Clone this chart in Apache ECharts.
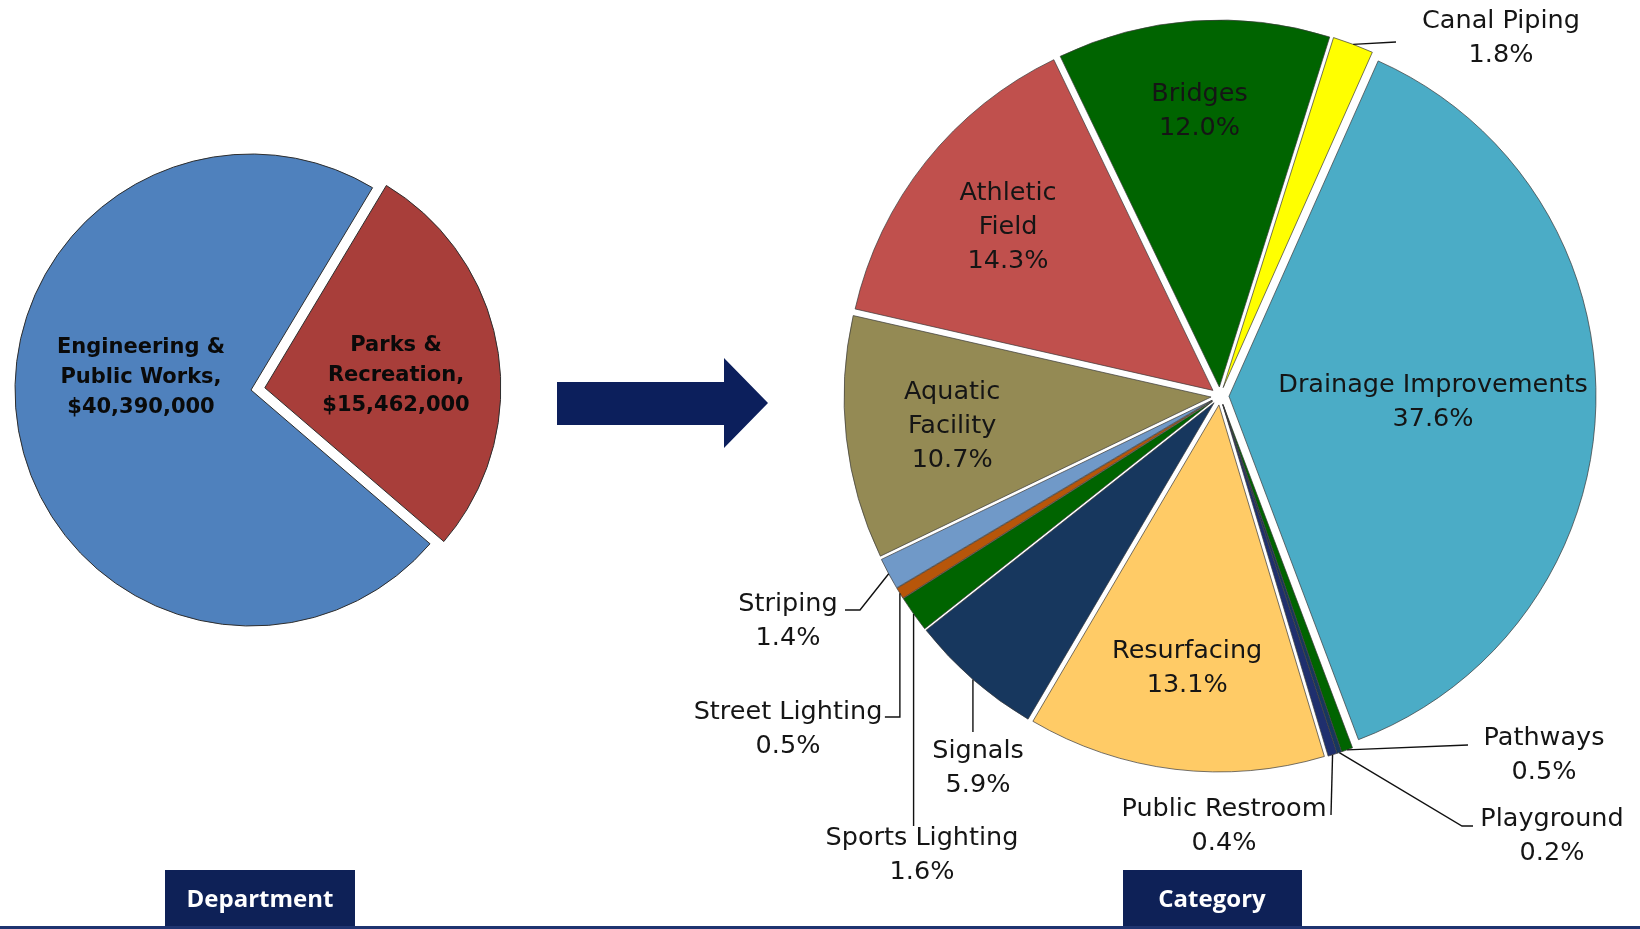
<!DOCTYPE html>
<html><head><meta charset="utf-8">
<script src="https://cdn.jsdelivr.net/npm/echarts@6/dist/echarts.min.js"></script>
<style>html,body{margin:0;padding:0;background:#fff}#chart{width:1640px;height:929px}</style>
</head><body><div id="chart"></div>
<script>
// ---------- data ----------
const deptNames = ['Parks &\nRecreation,', 'Engineering &\nPublic Works,'];
const deptValues = [15462000, 40390000];

const catNames = ['Aquatic Facility', 'Athletic Field', 'Bridges', 'Canal Piping', 'Drainage Improvements',
  'Pathways', 'Playground', 'Public Restroom', 'Resurfacing', 'Signals', 'Sports Lighting',
  'Street Lighting', 'Striping'];
const catLabels = ['Aquatic\nFacility', 'Athletic\nField', 'Bridges', 'Canal Piping', 'Drainage Improvements',
  'Pathways', 'Playground', 'Public Restroom', 'Resurfacing', 'Signals', 'Sports Lighting',
  'Street Lighting', 'Striping'];
const catShares = [10.7, 14.3, 12.0, 1.8, 37.6, 0.5, 0.2, 0.4, 13.1, 5.9, 1.6, 0.5, 1.4];

const boxTitles = ['Department', 'Category'];

// ---------- styles / layout ----------
const deptColors = ['#A83E3A', '#4F81BD'];
const catColors = ['#948A54', '#C0504D', '#006400', '#FFFF00', '#4BACC6', '#006400', '#17375E',
  '#1F2F6E', '#FFCB66', '#17375E', '#006400', '#B7560A', '#7099C8'];

const LEFT = { cx: 251, cy: 390, r: 236, start: 59, offset: 14 };
const RIGHT = { cx: 1220, cy: 396, r: 367, start: 205.7, offset: 9 };

function midAngles(values, startDeg) {
  const total = values.reduce((a, b) => a + b, 0);
  let acc = 90 - startDeg;
  return values.map(v => { const span = v / total * 360; const m = acc + span / 2; acc += span; return m; });
}
function polar(c, r, deg) {
  const a = deg * Math.PI / 180;
  return [c.cx + r * Math.sin(a), c.cy - r * Math.cos(a)];
}
const catMid = midAngles(catShares, RIGHT.start);

// label placement (layout only)
const deptLabelAt = [[396, 376], [141, 378]];
const catPlace = {
  0: { inside: 0.71 }, 1: { inside: 0.714 }, 2: { inside: 0.754 }, 4: { inside: 0.556 }, 8: { inside: 0.722 },
  3: { at: [1501, 38], leader: p => [[1396, 42]] },
  5: { at: [1544, 755], leader: p => [[1468, 745]] },
  6: { at: [1552, 836], leader: p => [[1462, 826], [1473, 826]] },
  7: { at: [1224, 826], leader: p => [[1331, 815]] },
  9: { at: [978, 768], leader: p => [[p[0], 732]] },
  10: { at: [922, 855], leader: p => [[p[0], 826]] },
  11: { at: [788, 729], leader: p => [[p[0], 717], [p[0] - 15, 717]] },
  12: { at: [788, 621], leader: p => [[860, 610], [845, 610]] }
};

const chart = echarts.init(document.getElementById('chart'), null, { renderer: 'canvas' });

const option = {
  animation: false,
  backgroundColor: '#ffffff',
  graphic: [
    { type: 'polygon', silent: true, shape: { points: [[557, 382], [724, 382], [724, 358], [768, 403], [724, 448], [724, 425], [557, 425]] },
      style: { fill: '#0c1f5c' } },
    { type: 'rect', silent: true, shape: { x: 165, y: 870, width: 190, height: 59 }, style: { fill: '#0e2157' } },
    { type: 'text', silent: true, x: 260, y: 900, style: { text: boxTitles[0], fill: '#fff', font: 'bold 24px "Open Sans"', align: 'center', verticalAlign: 'middle' } },
    { type: 'rect', silent: true, shape: { x: 1123, y: 870, width: 179, height: 59 }, style: { fill: '#0e2157' } },
    { type: 'text', silent: true, x: 1212, y: 900, style: { text: boxTitles[1], fill: '#fff', font: 'bold 24px "Open Sans"', align: 'center', verticalAlign: 'middle' } },
    { type: 'rect', silent: true, shape: { x: 0, y: 926, width: 1640, height: 3 }, style: { fill: '#1f3470' } }
  ],
  series: [
    {
      type: 'pie', name: 'Department', silent: true,
      center: [LEFT.cx, LEFT.cy], radius: LEFT.r, startAngle: LEFT.start, clockwise: true,
      selectedMode: 'multiple', selectedOffset: LEFT.offset,
      label: { show: false }, labelLine: { show: false },
      itemStyle: { borderColor: '#2e2e2e', borderWidth: 1 },
      data: deptNames.map((n, i) => ({ name: n, value: deptValues[i], selected: i === 0, itemStyle: { color: deptColors[i] } }))
    },
    {
      type: 'pie', name: 'DepartmentLabels', silent: true, z: 3,
      center: [LEFT.cx, LEFT.cy], radius: LEFT.r, startAngle: LEFT.start, clockwise: true,
      avoidLabelOverlap: false,
      itemStyle: { color: 'rgba(0,0,0,0)', borderWidth: 0 },
      label: {
        show: true, position: 'inside', color: '#0a0a0a',
        fontFamily: 'DejaVu Sans', fontWeight: 'bold', fontSize: 21, lineHeight: 30,
        formatter: p => p.name + '\n$' + p.value.toLocaleString('en-US')
      },
      labelLine: { show: false },
      labelLayout: p => ({ x: deptLabelAt[p.dataIndex][0], y: deptLabelAt[p.dataIndex][1], align: 'center', verticalAlign: 'middle' }),
      data: deptNames.map((n, i) => ({ name: n, value: deptValues[i] }))
    },
    {
      type: 'pie', name: 'Category', silent: true,
      center: [RIGHT.cx, RIGHT.cy], radius: RIGHT.r, startAngle: RIGHT.start, clockwise: true,
      selectedMode: 'multiple', selectedOffset: RIGHT.offset,
      label: { show: false }, labelLine: { show: false },
      itemStyle: { borderColor: '#3a3a3a', borderWidth: 0.7 },
      data: catNames.map((n, i) => ({ name: n, value: catShares[i], selected: true, itemStyle: { color: catColors[i] } }))
    },
    {
      type: 'pie', name: 'CategoryLabels', silent: true, z: 3,
      center: [RIGHT.cx, RIGHT.cy], radius: RIGHT.r, startAngle: RIGHT.start, clockwise: true,
      avoidLabelOverlap: false,
      itemStyle: { color: 'rgba(0,0,0,0)', borderWidth: 0 },
      label: {
        show: true, color: '#151515',
        fontFamily: 'DejaVu Sans', fontSize: 25.5, lineHeight: 34,
        formatter: p => catLabels[p.dataIndex] + '\n' + catShares[p.dataIndex].toFixed(1) + '%'
      },
      labelLine: { show: true, length: 10, length2: 10, lineStyle: { color: '#111', width: 1.4 } },
      labelLayout: p => {
        const i = p.dataIndex, cfg = catPlace[i];
        if (cfg.inside) {
          const pt = polar(RIGHT, cfg.inside * RIGHT.r + RIGHT.offset, catMid[i]);
          return { x: pt[0], y: pt[1], align: 'center', verticalAlign: 'middle' };
        }
        const p0 = polar(RIGHT, RIGHT.r + RIGHT.offset, catMid[i]);
        return { x: cfg.at[0], y: cfg.at[1], align: 'center', verticalAlign: 'middle',
          labelLinePoints: [p0].concat(cfg.leader(p0)) };
      },
      data: catNames.map((n, i) => {
        const inside = !!(catPlace[i] && catPlace[i].inside);
        return { name: n, value: catShares[i],
          label: { position: inside ? 'inside' : 'outside' },
          labelLine: { show: !inside } };
      })
    }
  ]
};
chart.setOption(option);
</script>
</body></html>
